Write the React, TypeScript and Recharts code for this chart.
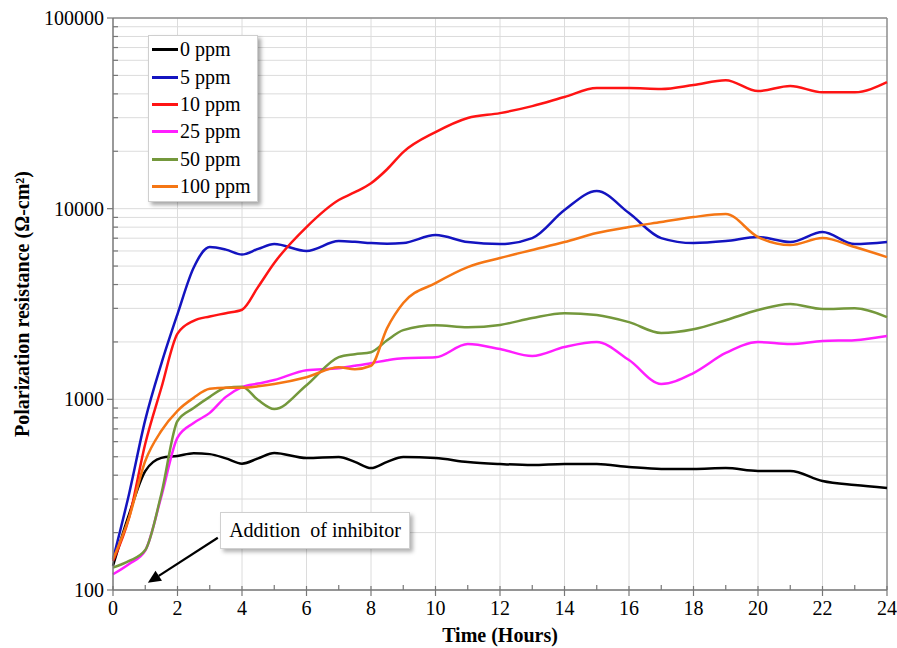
import React from 'react';
import {
  LineChart,
  Line,
  XAxis,
  YAxis,
  CartesianGrid,
  Legend,
  ReferenceLine,
} from 'recharts';

// time in hours (finer steps where the curves bend quickly)
const hours = [
  0, 0.5, 1, 1.5, 2, 2.5, 3, 3.5, 4, 4.5, 5, 6, 7, 7.5, 8, 8.5, 9, 10, 11, 12, 13, 14, 15, 16, 17,
  18, 19, 20, 21, 22, 23, 24,
];

// polarization resistance, ohm-cm2
const ppm0 = [
  134, 250, 420, 493, 505, 522, 516, 490, 460, 490, 523, 492, 498, 470, 436, 470, 498, 492, 469,
  458, 452, 458, 458, 442, 431, 431, 436, 421, 421, 373, 355, 343,
];
const ppm5 = [
  145, 320, 780, 1540, 2800, 4900, 6300, 6100, 5750, 6150, 6520, 6000, 6760, 6700, 6600, 6550,
  6600, 7270, 6680, 6520, 7010, 9840, 12370, 9480, 7010, 6600, 6760, 7100, 6680, 7540, 6520, 6680,
];
const ppm10 = [
  142, 240, 585, 1150, 2210, 2580, 2720, 2830, 2950, 3890, 5190, 8010, 11100, 12200, 13600, 16100,
  19800, 25200, 29900, 31700, 34500, 38500, 42900, 42900, 42400, 44500, 47200, 41400, 44000, 40800,
  40800, 46100,
];
const ppm25 = [
  121, 137, 161, 310, 630, 751, 849, 1030, 1160, 1210, 1262, 1422, 1456, 1500, 1548, 1604, 1643,
  1660, 1950, 1836, 1687, 1880, 1996, 1607, 1203, 1374, 1750, 1996, 1950, 2023, 2043, 2148,
];
const ppm50 = [
  131, 142, 162, 320, 770, 900, 1030, 1150, 1165, 991, 889, 1185, 1665, 1725, 1767, 2040, 2307,
  2450, 2390, 2455, 2670, 2830, 2770, 2540, 2228, 2330, 2600, 2940, 3160, 2975, 3000, 2700,
];
const ppm100 = [
  145, 240, 475, 684, 871, 1018, 1135, 1150, 1150, 1170, 1203, 1306, 1474, 1440, 1500, 2365, 3200,
  4070, 4940, 5510, 6070, 6680, 7450, 8010, 8510, 9040, 9370, 7100, 6440, 7010, 6290, 5570,
];

const seriesNames = ['0 ppm', '5 ppm', '10 ppm', '25 ppm', '50 ppm', '100 ppm'];
const seriesValues = [ppm0, ppm5, ppm10, ppm25, ppm50, ppm100];
const seriesColors = ['#000000', '#1414c0', '#ff1414', '#ff1eff', '#74983c', '#f57614'];

const xTicks = Array.from({ length: 25 }, (_, i) => i);
const xGrid = [2, 4, 6, 8, 10, 12, 14, 16, 18, 20, 22];
const yTicks = [100, 1000, 10000]
  .flatMap((d) => [1, 2, 3, 4, 5, 6, 7, 8, 9].map((m) => m * d))
  .concat([100000]);

const data = hours.map((t, i) => {
  const row: Record<string, number> = { t };
  seriesNames.forEach((name, k) => {
    row[name] = seriesValues[k][i];
  });
  return row;
});

const FONT = '"Liberation Serif", "Times New Roman", serif';
const GRID = '#dcdcdc';
const AXIS = '#777';

const XTick = ({ x, y, payload }: any) => {
  const major = payload.value % 2 === 0;
  return (
    <g>
      {major ? (
        <line x1={x} x2={x} y1={y - 4} y2={y + 6} stroke={AXIS} strokeWidth={1.2} />
      ) : (
        <line x1={x} x2={x} y1={y - 5} y2={y} stroke={AXIS} strokeWidth={1.2} />
      )}
      {major && (
        <text x={x} y={y + 25} textAnchor="middle" fontFamily={FONT} fontSize={20} fill="#000">
          {payload.value}
        </text>
      )}
    </g>
  );
};

const YTick = ({ x, y, payload }: any) => {
  const v = payload.value;
  const major = Math.abs(Math.log10(v) - Math.round(Math.log10(v))) < 1e-9;
  return (
    <g>
      {major ? (
        <line x1={x - 6} x2={x} y1={y} y2={y} stroke={AXIS} strokeWidth={1.2} />
      ) : (
        <line x1={x} x2={x + 5} y1={y} y2={y} stroke={AXIS} strokeWidth={1.2} />
      )}
      {major && (
        <text x={x - 9} y={y} dy="0.35em" textAnchor="end" fontFamily={FONT} fontSize={20} fill="#000">
          {v}
        </text>
      )}
    </g>
  );
};

const YLabel = ({ viewBox }: any) => {
  const cx = viewBox.x + 22;
  const cy = viewBox.y + viewBox.height / 2;
  return (
    <text
      x={cx}
      y={cy}
      transform={`rotate(-90, ${cx}, ${cy})`}
      textAnchor="middle"
      dominantBaseline="central"
      fontFamily={FONT}
      fontWeight="bold"
      fontSize={20}
      fill="#000"
    >
      Polarization resistance (Ω-cm²)
    </text>
  );
};

const XLabel = ({ viewBox }: any) => (
  <text
    x={viewBox.x + viewBox.width / 2}
    y={viewBox.y + 52}
    textAnchor="middle"
    fontFamily={FONT}
    fontWeight="bold"
    fontSize={20}
    fill="#000"
  >
    Time (Hours)
  </text>
);

// keep the legend in series order (recharts sorts it by name otherwise)
const LegendBox = ({ payload }: any) => {
  const items = [...(payload || [])].sort(
    (a: any, b: any) => seriesNames.indexOf(a.value) - seriesNames.indexOf(b.value)
  );
  return (
    <div
      style={{
        background: '#fff',
        border: '1px solid #cfcfcf',
        boxShadow: '3px 3px 4px rgba(0,0,0,0.35)',
        padding: '0px 4px 1px 3px',
        fontFamily: FONT,
        fontSize: 20,
        color: '#000',
      }}
    >
      {items.map((p: any) => (
        <div key={p.value} style={{ display: 'flex', alignItems: 'center', height: 27.4 }}>
          <span
            style={{ display: 'inline-block', width: 26, height: 3, background: p.color, marginRight: 2 }}
          />
          <span>{p.value}</span>
        </div>
      ))}
    </div>
  );
};

const Arrow = (props: any) => {
  const { x1, y1, x2, y2 } = props;
  const ang = Math.atan2(y2 - y1, x2 - x1);
  const len = 13;
  const w = 6;
  const bx = x2 - len * Math.cos(ang);
  const by = y2 - len * Math.sin(ang);
  const px = -Math.sin(ang) * w;
  const py = Math.cos(ang) * w;
  return (
    <g>
      <line x1={x1} y1={y1} x2={bx} y2={by} stroke="#000" strokeWidth={2.2} />
      <polygon points={`${x2},${y2} ${bx + px},${by + py} ${bx - px},${by - py}`} fill="#000" />
    </g>
  );
};

export default function App() {
  return (
    <div style={{ position: 'absolute', left: 0, top: 0, width: 897, height: 648, background: '#fff' }}>
      <LineChart width={897} height={648} data={data} margin={{ top: 18, right: 10, bottom: 0, left: 0 }}>
        <CartesianGrid vertical={false} stroke={GRID} strokeWidth={1} />
        {xGrid.map((g) => (
          <ReferenceLine key={g} x={g} stroke={GRID} strokeWidth={1} />
        ))}
        <ReferenceLine y={100000} stroke="#8c8c8c" strokeWidth={1.5} />
        <ReferenceLine x={24} stroke="#8c8c8c" strokeWidth={1.5} />
        <XAxis
          dataKey="t"
          type="number"
          domain={[0, 24]}
          ticks={xTicks}
          interval={0}
          tickSize={0}
          tickMargin={0}
          height={58}
          tick={<XTick />}
          tickLine={false}
          axisLine={{ stroke: AXIS, strokeWidth: 1.5 }}
          label={<XLabel />}
        />
        <YAxis
          type="number"
          scale="log"
          domain={[100, 100000]}
          allowDataOverflow
          ticks={yTicks}
          interval={0}
          tickSize={0}
          tickMargin={0}
          width={113}
          tick={<YTick />}
          tickLine={false}
          axisLine={{ stroke: AXIS, strokeWidth: 1.5 }}
          label={<YLabel />}
        />
        {seriesNames.map((name, k) => (
          <Line
            key={name}
            type="monotone"
            dataKey={name}
            name={name}
            stroke={seriesColors[k]}
            strokeWidth={2.5}
            dot={false}
            activeDot={false}
            isAnimationActive={false}
          />
        ))}
        <ReferenceLine
          segment={[
            { x: 3.25, y: 188 },
            { x: 1.08, y: 109 },
          ]}
          shape={<Arrow />}
        />
        <Legend
          layout="vertical"
          align="center"
          verticalAlign="middle"
          content={<LegendBox />}
          wrapperStyle={{ left: 148, top: 35, width: 110 }}
        />
      </LineChart>
      <div
        style={{
          position: 'absolute',
          left: 220,
          top: 512,
          width: 190,
          height: 37,
          background: '#fff',
          border: '1px solid #d0d0d0',
          boxShadow: '3px 3px 4px rgba(0,0,0,0.3)',
          fontFamily: FONT,
          fontSize: 20,
          display: 'flex',
          alignItems: 'center',
          justifyContent: 'center',
          boxSizing: 'border-box',
        }}
      >
        Addition&nbsp; of inhibitor
      </div>
    </div>
  );
}
